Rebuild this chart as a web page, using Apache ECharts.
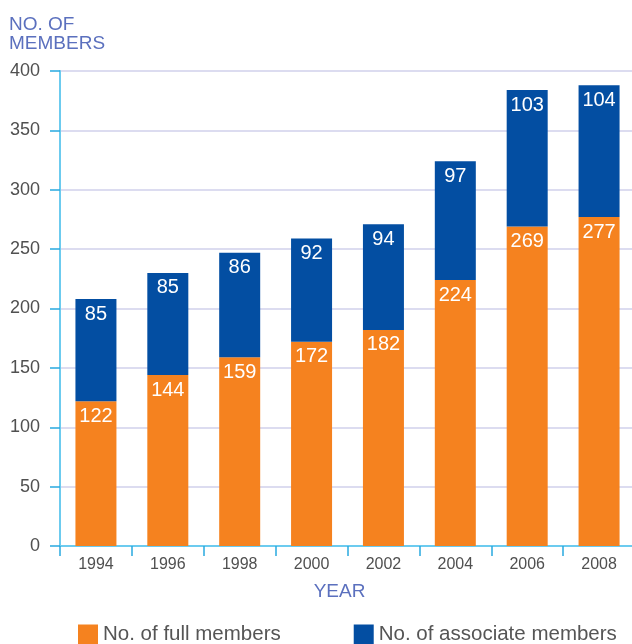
<!DOCTYPE html>
<html>
<head>
<meta charset="utf-8">
<script src="https://cdn.jsdelivr.net/npm/echarts@6/dist/echarts.min.js"></script>
<style>html,body{margin:0;padding:0;background:#fff}#c{width:632px;height:644px}</style>
</head>
<body>
<div id="c"></div>
<script>
var years = ['1994','1996','1998','2000','2002','2004','2006','2008'];
var fullMembers = [122,144,159,172,182,224,269,277];
// associate segment heights as drawn in the picture
var associateDrawn = [86,86,88,87,89,100,115,111];
// associate values as printed on the bars
var associateLabels = [85,85,86,92,94,97,103,104];
var yTicks = [0,50,100,150,200,250,300,350,400];

var chart = echarts.init(document.getElementById('c'));
var labelStyle = {show:true, position:'insideTop', distance:5, color:'#fff', fontSize:20, fontFamily:'Liberation Sans, Arial, sans-serif'};
chart.setOption({
  animation:false,
  title:{text:'NO. OF\nMEMBERS', left:4, top:10, textStyle:{color:'#5B70BE', fontSize:19, fontWeight:'normal', lineHeight:19, fontFamily:'Liberation Sans, Arial, sans-serif'}},
  legend:{left:73, top:619, itemWidth:20, itemHeight:20, itemGap:73, icon:'rect',
    textStyle:{color:'#555', fontSize:20.5, fontFamily:'Liberation Sans, Arial, sans-serif'},
    data:['No. of full members','No. of associate members']},
  grid:{left:60, width:575, top:71, bottom:98, containLabel:false, outerBoundsMode:'none'},
  xAxis:{type:'category', data:years, name:'YEAR', nameLocation:'middle', nameGap:36,
    nameTextStyle:{color:'#5B70BE', fontSize:19, lineHeight:19, padding:[0,16,0,0], fontFamily:'Liberation Sans, Arial, sans-serif'},
    axisLine:{lineStyle:{color:'#6CCBEF', width:2}},
    axisTick:{show:true, length:10, lineStyle:{color:'#29A9E0', width:1.5}},
    axisLabel:{color:'#505050', fontSize:16, margin:11, fontFamily:'Liberation Sans, Arial, sans-serif'}},
  yAxis:{type:'value', min:yTicks[0], max:yTicks[yTicks.length-1], interval:50,
    axisLine:{show:true, lineStyle:{color:'#6CCBEF', width:2}},
    axisTick:{show:true, length:10, lineStyle:{color:'#29A9E0', width:1.5}},
    axisLabel:{color:'#505050', fontSize:18, margin:20, fontFamily:'Liberation Sans, Arial, sans-serif'},
    splitLine:{lineStyle:{color:'#DCDCF0', width:2}}},
  series:[
    {name:'No. of full members', type:'bar', stack:'m', barWidth:41, data:fullMembers,
     itemStyle:{color:'#F5821F'}, label:labelStyle},
    {name:'No. of associate members', type:'bar', stack:'m', barWidth:41, data:associateDrawn,
     itemStyle:{color:'#034EA2'},
     label:Object.assign({}, labelStyle, {formatter:function(p){return associateLabels[p.dataIndex];}})}
  ]
});
</script>
</body>
</html>
